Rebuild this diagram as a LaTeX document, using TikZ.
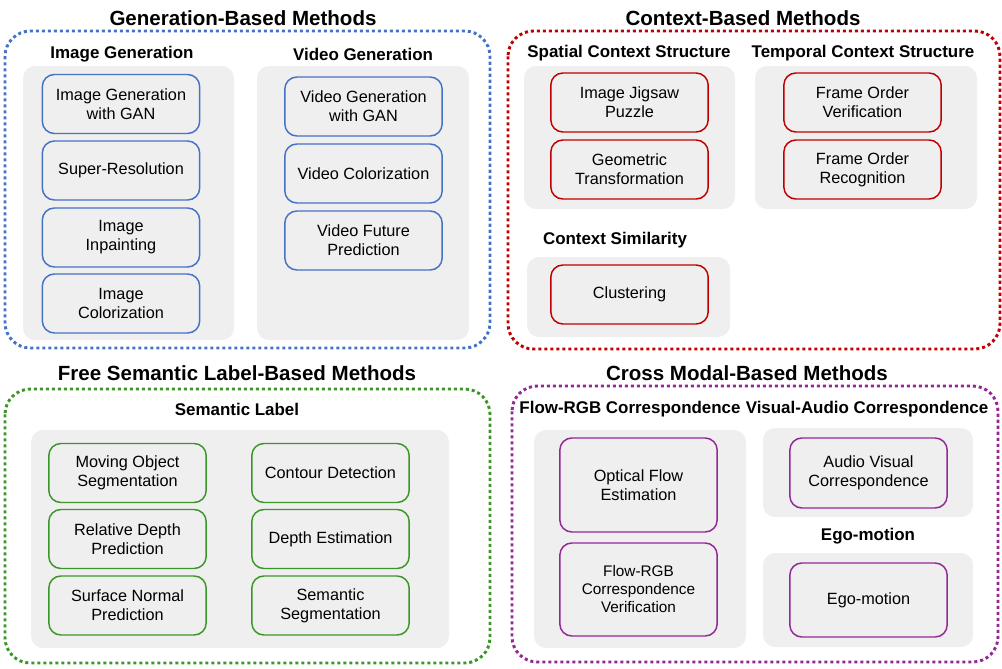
\documentclass[tikz,border=0pt]{standalone}
\usepackage{fontspec}
\setmainfont{Liberation Sans}
\usepackage{xcolor}
\usepackage{tikz}

\definecolor{genblue}{RGB}{68,114,196}
\definecolor{ctxred}{RGB}{192,0,0}
\definecolor{semgreen}{RGB}{58,150,38}
\definecolor{crosspurple}{RGB}{148,38,150}
\definecolor{groupgray}{RGB}{239,239,239}

\tikzset{
    outer/.style={line width=2.2pt, dash pattern=on 2.3pt off 2.2pt, rounded corners=19pt},
    group/.style={fill=groupgray, draw=none, rounded corners=9pt},
    method/.style={draw=#1, fill=groupgray, line width=1.1pt, rounded corners=9pt,
        minimum width=118pt, minimum height=44.25pt, inner sep=0pt, align=center,
        font=\fontsize{12.2}{14.3}\selectfont},
    heading/.style={font=\fontsize{15.4}{18}\selectfont\bfseries},
    sublabel/.style={font=\fontsize{12.7}{15}\selectfont\bfseries}
}

\begin{document}
\begin{tikzpicture}[x=0.75pt, y=-0.75pt]
        \useasboundingbox (0,0) rectangle (1002,668);

        % Generation-based methods.
        \draw[outer, draw=genblue] (5,31) rectangle (490,348);
        \fill[group] (23,66) rectangle (234,340);
        \fill[group] (257,66) rectangle (469,340);
        \draw (243,18) node[heading] (gen) {Generation-Based Methods}
            (122,54) node[sublabel] (imggen) {Image Generation}
            (363,54) node[sublabel] (vidgen) {Video Generation};
        \draw (121,104) node[method=genblue] (imggan) {Image Generation\\with GAN}
            (121,170.5) node[method=genblue] (superres) {Super-Resolution}
            (121,237.5) node[method=genblue] (inpaint) {Image\\Inpainting}
            (121,303.5) node[method=genblue] (imgcolor) {Image\\Colorization}
            (363.5,106.5) node[method=genblue] (vidgan) {Video Generation\\with GAN}
            (363.5,173.5) node[method=genblue] (vidcolor) {Video Colorization}
            (363.5,240.5) node[method=genblue] (vidfuture) {Video Future\\Prediction};

        % Context-based methods.
        \draw[outer, draw=ctxred] (508,31) rectangle (1000,349);
        \fill[group] (524,66) rectangle (735,209);
        \fill[group] (755,66) rectangle (977,209);
        \fill[group] (527,257) rectangle (730,337);
        \draw (743,18) node[heading] (ctx) {Context-Based Methods}
            (629,53) node[sublabel] (spatial) {Spatial Context Structure}
            (863,53) node[sublabel] (temporal) {Temporal Context Structure}
            (615,240) node[sublabel] (similar) {Context Similarity};
        \draw (629.5,102.5) node[method=ctxred] (jigsaw) {Image Jigsaw\\Puzzle}
            (629.5,169.5) node[method=ctxred] (geotrans) {Geometric\\Transformation}
            (862.5,102.5) node[method=ctxred] (orderver) {Frame Order\\Verification}
            (862.5,169.5) node[method=ctxred] (orderrec) {Frame Order\\Recognition}
            (629.5,294.5) node[method=ctxred] (cluster) {Clustering};

        % Free semantic label-based methods.
        \draw[outer, draw=semgreen] (5,389) rectangle (490,663);
        \fill[group] (31,430) rectangle (449,648);
        \draw (237,373) node[heading] (sem) {Free Semantic Label-Based Methods}
            (237,409) node[sublabel] (semlabel) {Semantic Label};
        \draw (127.5,473) node[method=semgreen] (moving) {Moving Object\\Segmentation}
            (127.5,539) node[method=semgreen] (reldepth) {Relative Depth\\Prediction}
            (127.5,605.5) node[method=semgreen] (normal) {Surface Normal\\Prediction}
            (330.5,473) node[method=semgreen] (contour) {Contour Detection}
            (330.5,539) node[method=semgreen] (depth) {Depth Estimation}
            (330.5,605.5) node[method=semgreen] (semseg) {Semantic\\Segmentation};

        % Cross modal-based methods.
        \draw[outer, draw=crosspurple] (512,386) rectangle (998,662);
        \fill[group] (534,430) rectangle (746,648);
        \fill[group] (763,428) rectangle (973,517);
        \fill[group] (763,553) rectangle (973,647);
        \draw (747,373) node[heading] (cross) {Cross Modal-Based Methods}
            (630,409) node[sublabel] (flowrgb) {Flow-RGB Correspondence}
            (867,409) node[sublabel] (visaudio) {Visual-Audio Correspondence}
            (868,536) node[sublabel] (ego) {Ego-motion};
        \draw (638.5,485) node[method=crosspurple, minimum height=70.5pt] (optflow) {Optical Flow\\Estimation}
            (638.5,589.5) node[method=crosspurple, minimum height=69.75pt,
                font=\fontsize{11.5}{13.5}\selectfont] (flowver) {Flow-RGB\\Correspondence\\Verification}
            (868.5,473) node[method=crosspurple, minimum height=52.5pt] (audiovis) {Audio Visual\\Correspondence}
            (868.5,600) node[method=crosspurple, minimum height=55.5pt] (egomotion) {Ego-motion};
    \end{tikzpicture}
\end{document}
